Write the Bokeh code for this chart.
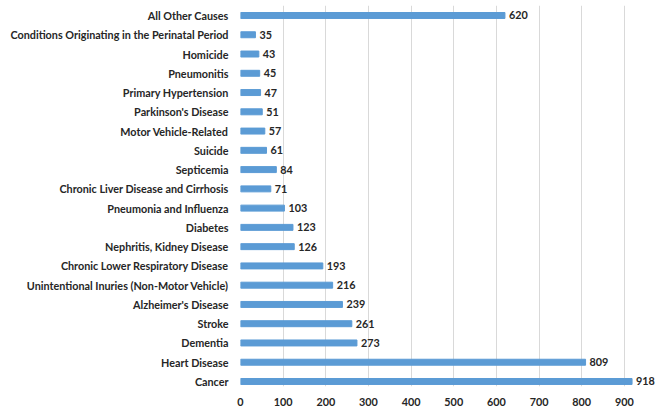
from bokeh.plotting import figure
from bokeh.models import Range1d, FixedTicker, ColumnDataSource, LabelSet
from bokeh.core.properties import value
from bokeh.embed import file_html
from bokeh.resources import INLINE

causes = ["Cancer", "Heart Disease", "Dementia", "Stroke", "Alzheimer's Disease",
          "Unintentional Inuries (Non-Motor Vehicle)", "Chronic Lower Respiratory Disease",
          "Nephritis, Kidney Disease", "Diabetes", "Pneumonia and Influenza",
          "Chronic Liver Disease and Cirrhosis", "Septicemia", "Suicide",
          "Motor Vehicle-Related", "Parkinson's Disease", "Primary Hypertension",
          "Pneumonitis", "Homicide", "Conditions Originating in the Perinatal Period",
          "All Other Causes"]
deaths = [918, 809, 273, 261, 239, 216, 193, 126, 123, 103, 71, 84, 61, 57, 51, 47, 45, 43, 35, 620]
x_ticks = [0, 100, 200, 300, 400, 500, 600, 700, 800, 900]

FONT = "Lato"
TXT = "#262626"
FS = "10.8px"

pos = list(range(len(causes)))
src = ColumnDataSource(dict(y=pos, v=deaths, lab=[str(d) for d in deaths]))

p = figure(width=658, height=408, output_backend="svg", toolbar_location=None,
           x_range=Range1d(0, 980), y_range=Range1d(-0.26, 19.519),
           min_border_left=240, min_border_right=0, min_border_top=5, min_border_bottom=22)
p.outline_line_color = None
p.background_fill_color = "white"
p.border_fill_color = "white"

p.hbar(y="y", right="v", left=0, height=0.31, source=src, color="#5B9BD5")

labels = LabelSet(x="v", y="y", text="lab", source=src, x_offset=4,
                  text_baseline="middle", text_align="left",
                  text_font=value(FONT), text_font_style="bold", text_font_size=FS,
                  text_color=TXT)
p.add_layout(labels)

p.xaxis.ticker = FixedTicker(ticks=x_ticks)
p.xaxis.axis_line_color = None
p.xaxis.major_tick_line_color = None
p.xaxis.minor_tick_line_color = None
p.xaxis.major_label_standoff = 5
p.xaxis.major_label_text_font = FONT
p.xaxis.major_label_text_font_style = "bold"
p.xaxis.major_label_text_font_size = FS
p.xaxis.major_label_text_color = TXT

p.yaxis.ticker = FixedTicker(ticks=pos)
p.yaxis.major_label_overrides = {i: c for i, c in zip(pos, causes)}
p.yaxis.axis_line_color = None
p.yaxis.major_tick_line_color = None
p.yaxis.minor_tick_line_color = None
p.yaxis.major_label_standoff = 6
p.yaxis.major_label_text_font = FONT
p.yaxis.major_label_text_font_style = "bold"
p.yaxis.major_label_text_font_size = FS
p.yaxis.major_label_text_color = TXT

p.xgrid.grid_line_color = "#D9D9D9"
p.xgrid.grid_line_width = 1
p.ygrid.grid_line_color = None

open("out.html", "w").write(file_html(p, INLINE))
